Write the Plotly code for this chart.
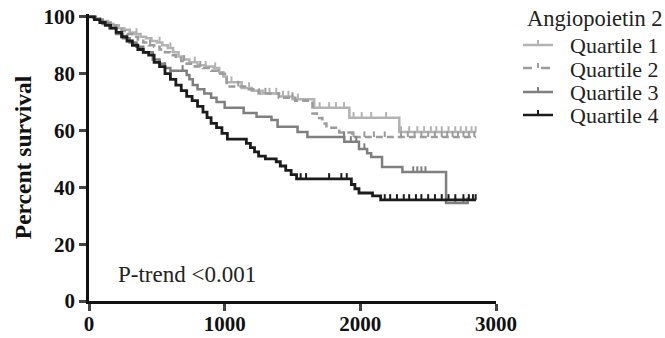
import numpy as np
import plotly.graph_objects as go

# ---------------- data ----------------
q1_t = [0, 30, 60, 100, 140, 180, 220, 260, 300, 340, 380, 420, 460, 500, 540, 580, 620, 660, 700, 740,
        800, 860, 920, 960, 990, 1015, 1125, 1200, 1280, 1400, 1500, 1660, 1919, 2287]
q1_s = [100, 99.5, 99, 98.5, 97.5, 97, 96, 95.5, 94.5, 94, 93, 92.5, 91.5, 91, 90, 89, 87.5, 86, 85, 84,
        83, 82.5, 82, 80.5, 79, 77, 75, 74, 73, 72, 71, 68, 64.5, 59.5]
q1_end = 2853
q1_cens = [350, 520, 600, 780, 860, 930, 1050, 1180, 1330, 1380, 1430, 1470, 1540, 1700, 1770, 1820, 1880,
           1950, 2010, 2080, 2190, 2300, 2360, 2420, 2470, 2520, 2560, 2600, 2650, 2700, 2740, 2780, 2820, 2850]

q2_t = [0, 40, 80, 120, 160, 200, 240, 280, 320, 360, 400, 440, 480, 520, 560, 600, 640, 680, 720, 780,
        840, 900, 950, 1015, 1150, 1250, 1400, 1520, 1647, 1680, 1720, 1750, 1845, 1940]
q2_s = [100, 99.5, 98.5, 98, 97, 96, 95, 94, 93, 92, 91, 90, 89.5, 88.5, 87.5, 86.5, 85.5, 84.5, 83.5, 82.5,
        82, 81, 80, 75.5, 74.5, 73, 71.5, 70.5, 66, 64.4, 62.5, 61, 59.3, 57.7]
q2_end = 2853
q2_cens = [450, 700, 820, 1100, 1300, 1500, 1950, 2030, 2100, 2180, 2300, 2350, 2400, 2450, 2500, 2550,
           2600, 2640, 2680, 2720, 2760, 2800, 2840]

q3_t = [0, 50, 100, 150, 200, 250, 300, 350, 400, 470, 520, 560, 600, 720, 740, 765, 800, 850, 900, 940,
        1000, 1140, 1235, 1345, 1390, 1537, 1610, 1882, 1990, 2050, 2080, 2160, 2310, 2632]
q3_s = [100, 99, 97.5, 96, 94, 92.5, 91, 89.5, 87.5, 85, 83.5, 82, 81, 79.5, 78, 76, 74.5, 73, 71.5, 70,
        68, 66.2, 64.8, 63.7, 61.3, 59.5, 57.7, 56, 53.5, 52, 50.7, 47.2, 45.4, 34.5]
q3_end = 2800
q3_cens = [560, 690, 1880, 1930, 1970, 2030, 2390, 2420, 2450, 2480, 2700, 2760, 2790]

q4_t = [0, 40, 80, 120, 160, 200, 240, 280, 320, 360, 400, 440, 480, 520, 560, 600, 640, 680, 720, 760,
        800, 840, 870, 900, 940, 980, 1020, 1160, 1190, 1220, 1250, 1300, 1380, 1410, 1450, 1490, 1530,
        1934, 1960, 1990, 2090, 2150]
q4_s = [100, 99, 98, 97, 96, 94.5, 93, 91.5, 90, 88.5, 87.5, 86.5, 84, 82.5, 80, 78, 76, 74, 72, 70.5,
        68.5, 66.5, 64.5, 62.5, 61, 59, 57, 55.5, 54, 52.5, 51, 50, 49, 47.5, 46, 44.5, 43,
        41, 39.5, 38, 37, 35.6]
q4_end = 2853
q4_cens = [1560, 1600, 1770, 1860, 1900, 2180, 2220, 2270, 2320, 2360, 2410, 2450, 2500, 2550, 2600,
           2650, 2700, 2760, 2800, 2830, 2850]

names = ["Quartile 1", "Quartile 2", "Quartile 3", "Quartile 4"]
legend_title = "Angiopoietin 2"
x_ticks = [0, 1000, 2000, 3000]
y_ticks = [0, 20, 40, 60, 80, 100]
ptrend_text = "P-trend <0.001"

# ---------------- styling ----------------
colors = ["#b3b3b3", "#9c9c9c", "#7f7f7f", "#1c1c1c"]
dashes = ["solid", "7px,4px", "solid", "solid"]
widths = [2.5, 2.5, 2.5, 2.8]
SERIF = "Liberation Serif"

W, H = 665, 338
L, R, T, B = 89, 169, 14, 37
PW, PH = W - L - R, H - T - B

def px_x(px):
    return (px - L) / PW

def px_y(py):
    return (H - B - py) / PH

fig = go.Figure()
series = [(q1_t, q1_s, q1_end, q1_cens), (q2_t, q2_s, q2_end, q2_cens),
          (q3_t, q3_s, q3_end, q3_cens), (q4_t, q4_s, q4_end, q4_cens)]

for i, (t, s, end, cens) in enumerate(series):
    xs = list(t) + [end]
    ys = list(s) + [s[-1]]
    fig.add_trace(go.Scatter(x=xs, y=ys, mode="lines", line_shape="hv",
                             line=dict(color=colors[i], width=widths[i], dash=dashes[i]),
                             name=names[i], showlegend=False, hoverinfo="skip"))
    t_arr = np.array(t)
    s_arr = np.array(s)
    idx = np.searchsorted(t_arr, np.array(cens), side="right") - 1
    cy = s_arr[idx]
    fig.add_trace(go.Scatter(x=cens, y=cy, mode="markers",
                             marker=dict(size=1, color=colors[i], opacity=0),
                             error_y=dict(type="constant", value=2.0, valueminus=0, symmetric=False,
                                          color=colors[i], thickness=2, width=0),
                             showlegend=False, hoverinfo="skip"))

# ---------------- manual legend ----------------
TXT = "#222"
annotations = [
    dict(x=px_x(525), y=px_y(19), xref="paper", yref="paper", text=legend_title, showarrow=False,
         xanchor="left", yanchor="middle", font=dict(family=SERIF, size=22.5, color=TXT)),
    dict(x=200, y=9.2, xref="x", yref="y", text=ptrend_text, showarrow=False,
         xanchor="left", yanchor="middle", font=dict(family=SERIF, size=23, color=TXT)),
]
shapes = []
item_y = [45, 68, 92, 115]
for i, name in enumerate(names):
    yy = item_y[i]
    annotations.append(dict(x=px_x(568), y=px_y(yy + 1), xref="paper", yref="paper", text=name,
                            showarrow=False, xanchor="left", yanchor="middle",
                            font=dict(family=SERIF, size=22, color=TXT)))
    shapes.append(dict(type="line", xref="paper", yref="paper", x0=px_x(523), x1=px_x(553),
                       y0=px_y(yy), y1=px_y(yy),
                       line=dict(color=colors[i], width=2.5, dash=("dash" if i == 1 else "solid"))))
    shapes.append(dict(type="line", xref="paper", yref="paper", x0=px_x(538), x1=px_x(538),
                       y0=px_y(yy), y1=px_y(yy - 5), line=dict(color=colors[i], width=2)))

fig.update_layout(
    width=W, height=H, margin=dict(l=L, r=R, t=T, b=B, autoexpand=False),
    paper_bgcolor="white", plot_bgcolor="white",
    showlegend=False,
    annotations=annotations, shapes=shapes,
    xaxis=dict(range=[0, 3000], tickvals=x_ticks, ticks="outside", ticklen=7, tickwidth=2.5,
               showline=True, linecolor="#111", linewidth=2.5, showgrid=False, zeroline=False,
               automargin=False, ticklabelstandoff=-5,
               tickfont=dict(family=SERIF, size=21, color="#111", weight="bold")),
    yaxis=dict(range=[0, 101], tickvals=y_ticks, ticks="outside", ticklen=7, tickwidth=2.5,
               showline=True, linecolor="#111", linewidth=2.5, showgrid=False, zeroline=False,
               automargin=False,
               tickfont=dict(family=SERIF, size=21, color="#111", weight="bold"),
               title=dict(text="Percent survival", standoff=6,
                          font=dict(family=SERIF, size=23.5, color="#111", weight="bold"))),
)

fig.write_html("out.html", config={"displayModeBar": False},
               post_script="document.body.style.margin='0';document.body.style.overflow='hidden';")
